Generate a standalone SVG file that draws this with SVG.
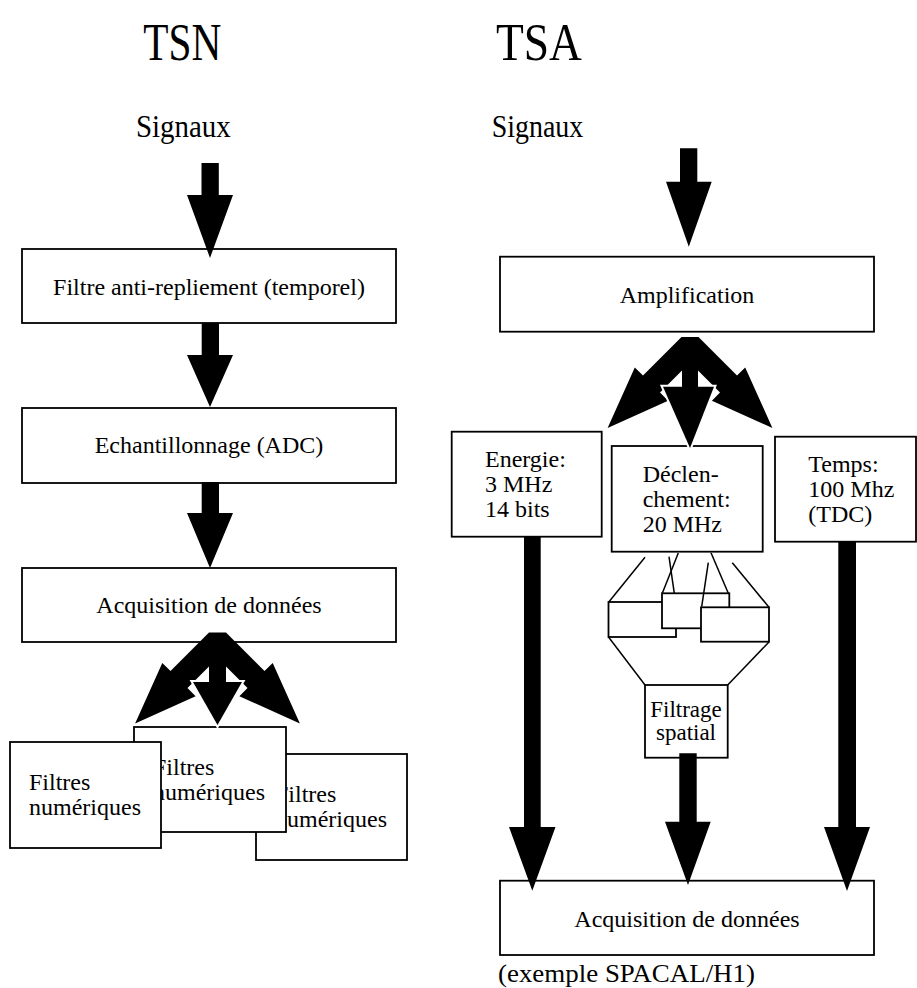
<svg xmlns="http://www.w3.org/2000/svg" xmlns:xlink="http://www.w3.org/1999/xlink" width="917" height="988" viewBox="0 0 917 988">
  <style>
    text { font-family: "Liberation Serif", "Times New Roman", serif; fill: #000; }
    .lbl { font-size: 24px; }
    .sm { font-size: 23px; }
    .mid { text-anchor: middle; }
    .box { fill: #fff; stroke: #000; stroke-width: 1.8; }
    .arrow { fill: #000; stroke: none; }
    .head { fill: #000; stroke: #fff; stroke-width: 4; paint-order: stroke; stroke-linejoin: miter; }
    .wire { fill: none; stroke: #000; stroke-width: 1.5; }
  </style>
  <defs>
    <!-- pair of diagonal arrows fanning out from a common root at (0,0) -->
    <path id="fork" d="M-8.5,-8.5 L-47,30 L-55.2,21.9 L-82.4,82.4 L-21.9,55.2 L-30,47 L0,17 L30,47 L21.9,55.2 L82.4,82.4 L55.2,21.9 L47,30 L8.5,-8.5 Z"/>
  </defs>

  <rect width="917" height="988" fill="#fff"/>

  <!-- column titles -->
  <g id="title-tsn"><text x="143.3" y="60" font-size="53" textLength="78" lengthAdjust="spacingAndGlyphs">TSN</text></g>
  <g id="title-tsa"><text x="496" y="60" font-size="53" textLength="86" lengthAdjust="spacingAndGlyphs">TSA</text></g>

  <!-- TSN column -->
  <g id="tsn-signaux"><text x="136" y="136.7" font-size="32" textLength="94.7" lengthAdjust="spacingAndGlyphs">Signaux</text></g>
  <g id="tsn-filtre">
    <rect class="box" x="22" y="249" width="374" height="74"/>
    <text class="lbl mid" x="209" y="295">Filtre anti-repliement (temporel)</text>
  </g>
  <g id="tsn-echantillonnage">
    <rect class="box" x="22" y="408" width="374" height="75"/>
    <text class="lbl mid" x="209" y="453">Echantillonnage (ADC)</text>
  </g>
  <g id="tsn-acquisition">
    <rect class="box" x="22" y="568" width="374" height="74"/>
    <text class="lbl mid" x="209" y="613">Acquisition de données</text>
  </g>
  <!-- stacked filter boxes: the left one sits on top -->
  <g id="tsn-filtres-3">
    <rect class="box" x="256" y="754" width="151" height="106"/>
    <text class="lbl" x="275" y="802">Filtres</text>
    <text class="lbl" x="275" y="827">numériques</text>
  </g>
  <g id="tsn-filtres-2">
    <rect class="box" x="134" y="727" width="152" height="105"/>
    <text class="lbl" x="153" y="775">Filtres</text>
    <text class="lbl" x="153" y="800">numériques</text>
  </g>
  <g id="tsn-filtres-1">
    <rect class="box" x="10" y="742" width="151" height="106"/>
    <text class="lbl" x="29" y="790">Filtres</text>
    <text class="lbl" x="29" y="815">numériques</text>
  </g>

  <!-- TSA column -->
  <g id="tsa-signaux"><text x="491.7" y="136.7" font-size="32" textLength="91.6" lengthAdjust="spacingAndGlyphs">Signaux</text></g>
  <g id="tsa-amplification">
    <rect class="box" x="500" y="256.7" width="374" height="75"/>
    <text class="lbl mid" x="687" y="302.7">Amplification</text>
  </g>
  <g id="tsa-energie">
    <rect class="box" x="451.7" y="431.7" width="150" height="105"/>
    <text class="lbl" x="485" y="466.7">Energie:</text>
    <text class="lbl" x="485" y="491.7">3 MHz</text>
    <text class="lbl" x="485" y="516.7">14 bits</text>
  </g>
  <g id="tsa-declenchement">
    <rect class="box" x="611.7" y="446" width="151" height="105.7"/>
    <text class="lbl" x="642.7" y="481.7">Déclen-</text>
    <text class="lbl" x="642.7" y="506.7">chement:</text>
    <text class="lbl" x="642.7" y="531.7">20 MHz</text>
  </g>
  <g id="tsa-temps">
    <rect class="box" x="775" y="436.7" width="141" height="105"/>
    <text class="lbl" x="808.3" y="471.7">Temps:</text>
    <text class="lbl" x="808.3" y="496.7">100 Mhz</text>
    <text class="lbl" x="808.3" y="521.7">(TDC)</text>
  </g>
  <g id="tsa-stack">
    <rect class="box" x="608.5" y="602" width="67.5" height="35"/>
    <rect class="box" x="662" y="593.3" width="67.3" height="35"/>
    <rect class="box" x="701" y="607.3" width="68" height="34.4"/>
  </g>
  <g id="tsa-filtrage">
    <rect class="box" x="645" y="685" width="82.7" height="72.7"/>
    <text class="sm mid" x="686" y="716.7">Filtrage</text>
    <text class="sm mid" x="686" y="740">spatial</text>
  </g>
  <g id="tsa-acquisition">
    <rect class="box" x="500" y="880.7" width="374" height="74.3"/>
    <text class="lbl mid" x="687" y="927.3">Acquisition de données</text>
  </g>
  <g id="tsa-note"><text x="498" y="982" font-size="26" textLength="257" lengthAdjust="spacingAndGlyphs">(exemple SPACAL/H1)</text></g>

  <!-- connectors -->
  <g id="connectors">
    <!-- TSN chain -->
    <polygon class="arrow" points="201.5,163 218.8,163 218.8,195 233,195 210,258 187,195 201.5,195"/>
    <polygon class="arrow" points="201.7,323 219,323 219,355 233,355 210,407 187,355 201.7,355"/>
    <polygon class="arrow" points="201.7,482 219,482 219,513 233,513 210,568 187,513 201.7,513"/>
    <!-- TSN three-way split -->
    <use xlink:href="#fork" href="#fork" transform="translate(217.5,641)"/>
    <polygon class="head" points="193,682 242,682 217.5,725"/>
    <rect class="arrow" x="209" y="655" width="17" height="29"/>

    <!-- TSA input -->
    <polygon class="arrow" points="680,148.3 697.3,148.3 697.3,181.7 711.7,181.7 688.8,246.7 666,181.7 680,181.7"/>
    <!-- TSA three-way split -->
    <use xlink:href="#fork" href="#fork" transform="translate(690,345.6)"/>
    <polygon class="head" points="663,386.7 714,386.7 690,448"/>
    <rect class="arrow" x="682" y="360" width="16" height="29"/>

    <!-- trigger fan-out to the stacked boxes and fan-in to spatial filter -->
    <line class="wire" x1="645" y1="557.3" x2="609" y2="601.7"/>
    <line class="wire" x1="678.3" y1="553" x2="662.3" y2="593.3"/>
    <line class="wire" x1="669" y1="556.7" x2="674.3" y2="593.3"/>
    <line class="wire" x1="708.3" y1="562.7" x2="701.7" y2="606.7"/>
    <line class="wire" x1="711" y1="552.7" x2="728.3" y2="593.3"/>
    <line class="wire" x1="732.3" y1="562.7" x2="769" y2="607.3"/>
    <line class="wire" x1="608.5" y1="637" x2="645" y2="685"/>
    <line class="wire" x1="769" y1="642" x2="727.7" y2="685"/>

    <!-- TSA outputs to acquisition -->
    <polygon class="arrow" points="524,537 540.7,537 540.7,827 555.5,827 532.3,890.7 509,827 524,827"/>
    <polygon class="arrow" points="679.3,753.3 696.7,753.3 696.7,821.7 710.7,821.7 688,885 665,821.7 679.3,821.7"/>
    <polygon class="arrow" points="838.3,542 856,542 856,827 870,827 847,891 824,827 838.3,827"/>
  </g>
</svg>
